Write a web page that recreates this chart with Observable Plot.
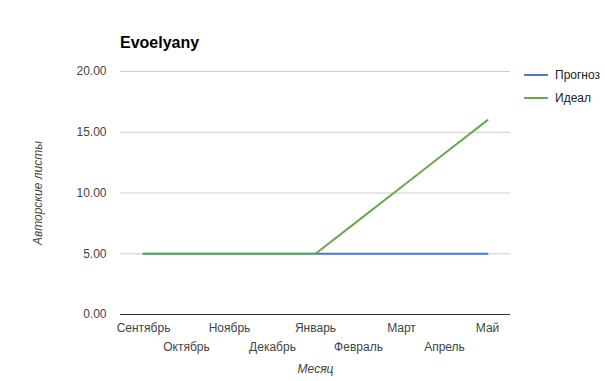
<!DOCTYPE html>
<html>
<head>
<meta charset="utf-8">
<script src="https://cdn.jsdelivr.net/npm/d3@7"></script>
<script src="https://cdn.jsdelivr.net/npm/@observablehq/plot@0.6"></script>
<style>
  body { margin: 0; background: #fff; font-family: "Liberation Sans", Arial, sans-serif; }
  #wrap { position: relative; width: 605px; height: 381px; }
  #title { position: absolute; left: 120px; top: 34px; font-size: 16px; font-weight: bold; color: #000; }
  .leg { position: absolute; left: 524px; font-size: 12px; color: #222; display: flex; align-items: center; }
  .leg span.sw { display: inline-block; width: 24px; height: 2px; margin-right: 7px; }
</style>
</head>
<body>
<div id="wrap">
  <div id="chart"></div>
  <div id="title">Evoelyany</div>
  <div class="leg" style="top:68px"><span class="sw" style="background:#4a78d8"></span>Прогноз</div>
  <div class="leg" style="top:91px"><span class="sw" style="background:#6aa84f"></span>Идеал</div>
</div>
<script>
const months = ["Сентябрь","Октябрь","Ноябрь","Декабрь","Январь","Февраль","Март","Апрель","Май"];
const forecast = [5,5,5,5,5,5,5,5,5];
const ideal = [5,5,5,5,5,7.75,10.5,13.25,16];
const yTicks = [0,5,10,15,20];
const seriesNames = ["Прогноз","Идеал"];
const seriesColors = ["#4a78d8","#6aa84f"];

const data = [];
months.forEach((m,i) => {
  data.push({month: m, value: forecast[i], series: seriesNames[0]});
  data.push({month: m, value: ideal[i], series: seriesNames[1]});
});
const evenMonths = months.filter((_,i) => i % 2 === 0);
const oddMonths = months.filter((_,i) => i % 2 === 1);

const plot = Plot.plot({
  width: 605,
  height: 381,
  marginLeft: 120,
  marginRight: 95,
  marginTop: 71,
  marginBottom: 67,
  style: {fontFamily: "Liberation Sans, Arial, sans-serif", fontSize: "12px", color: "#444", background: "#fff"},
  x: {type: "point", domain: months, padding: 0.5},
  y: {domain: [0, 20]},
  color: {domain: seriesNames, range: seriesColors},
  marks: [
    Plot.gridY(yTicks, {stroke: "#ccc", strokeOpacity: 1}),
    Plot.axisY(yTicks, {tickSize: 0, tickPadding: 14, tickFormat: d => d.toFixed(2), fill: "#444", label: null}),
    Plot.axisX(evenMonths, {tickSize: 0, tickPadding: 9, fill: "#444", label: null}),
    Plot.axisX(oddMonths, {tickSize: 0, tickPadding: 28, fill: "#444", label: null}),
    Plot.ruleY([0], {stroke: "#333"}),
    Plot.line(data.filter(d => d.series === seriesNames[0]), {x: "month", y: "value", stroke: "series", strokeWidth: 2}),
    Plot.line(data.filter(d => d.series === seriesNames[1]), {x: "month", y: "value", stroke: "series", strokeWidth: 2}),
    Plot.text(["Месяц"], {frameAnchor: "bottom", dy: 58, fontStyle: "italic", fill: "#444"}),
    Plot.text(["Авторские листы"], {frameAnchor: "left", textAnchor: "middle", dx: -82, rotate: -90, fontStyle: "italic", fill: "#444"})
  ]
});
document.getElementById("chart").appendChild(plot);
</script>
</body>
</html>
